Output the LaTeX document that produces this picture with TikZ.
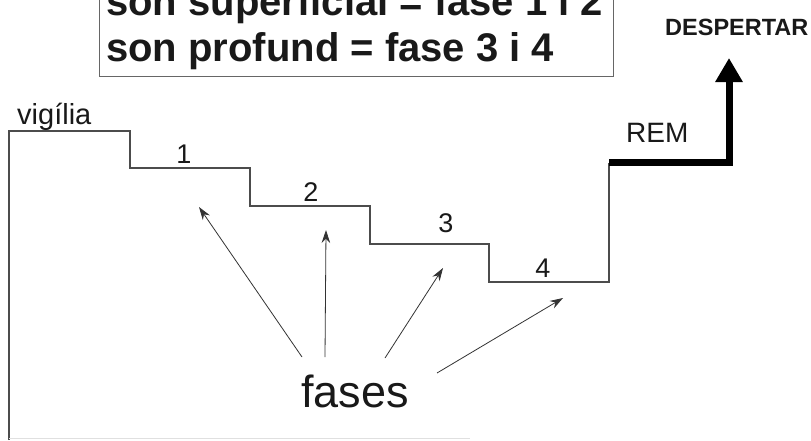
\documentclass[tikz,border=0pt]{standalone}
\usepackage{fontspec}
\setmainfont{Liberation Sans}
\usetikzlibrary{arrows.meta}
\begin{document}
\begin{tikzpicture}[x=1pt,y=-1pt,
  stair/.style={draw=black!70, line width=1.2pt, line join=miter},
  phasearrow/.style={-{Stealth[length=13pt,width=8.5pt]}, line width=0.8pt, draw=black!80},
  lbl/.style={inner sep=0pt, text=black!90},
  boxtext/.style={lbl, anchor=base west, font=\bfseries\fontsize{40}{44}\selectfont},
  digit/.style={lbl, anchor=base, font=\fontsize{27}{31}\selectfont}]
\clip (0,0) rectangle (811,440);
\useasboundingbox (0,0) rectangle (811,440);
\fill[white] (0,0) rectangle (811,440);

% legend box
\draw[draw=black!60, line width=0.9pt] (99,-60) rectangle (613,76);
\node[boxtext] (l1) at (106,15) {son superficial = fase 1 i 2};
\node[boxtext] (l2) at (106,61) {son profund = fase 3 i 4};

% staircase
\draw[stair] (9,440) -- (9,131) -- (130,131) -- (130,168) -- (250,168) -- (250,206)
  -- (370,206) -- (370,244) -- (489,244) -- (489,282) -- (609,282) -- (609,162.5);
\draw[black!12, line width=0.8pt] (9,438) -- (470,438);

% REM thick arrow
\coordinate (remstart) at (609,162.5);
\coordinate (remcorner) at (729,162.5);
\coordinate (wake) at (729,58);
\draw[line width=7pt, line join=miter, -{Triangle[length=24pt,width=26pt]}]
  (remstart) -- (remcorner) -- (wake);

% labels
\node[lbl, anchor=base west, font=\fontsize{29}{33}\selectfont] (vig) at (17,124) {vigília};
\node[digit] (d1) at (184,163) {1};
\node[digit] (d2) at (311,201) {2};
\node[digit] (d3) at (446,232) {3};
\node[digit] (d4) at (543,277) {4};
\node[lbl, anchor=base west, font=\fontsize{28}{32}\selectfont] (rem) at (626,142) {REM};
\node[lbl, anchor=base west, font=\bfseries\fontsize{23.5}{28}\selectfont] (desp) at (665,35) {DESPERTAR};
\node[lbl, anchor=base west, font=\fontsize{45}{50}\selectfont] (fases) at (301,407) {fases};

% phase arrows
\coordinate (a1s) at (302,357); \coordinate (a1e) at (199,207);
\coordinate (a2s) at (325,357); \coordinate (a2e) at (326,230);
\coordinate (a3s) at (385,358); \coordinate (a3e) at (443,268);
\coordinate (a4s) at (437,373); \coordinate (a4e) at (563,298);
\draw[phasearrow] (a1s) -- (a1e);
\draw[phasearrow] (a2s) -- (a2e);
\draw[phasearrow] (a3s) -- (a3e);
\draw[phasearrow] (a4s) -- (a4e);
\end{tikzpicture}
\end{document}
